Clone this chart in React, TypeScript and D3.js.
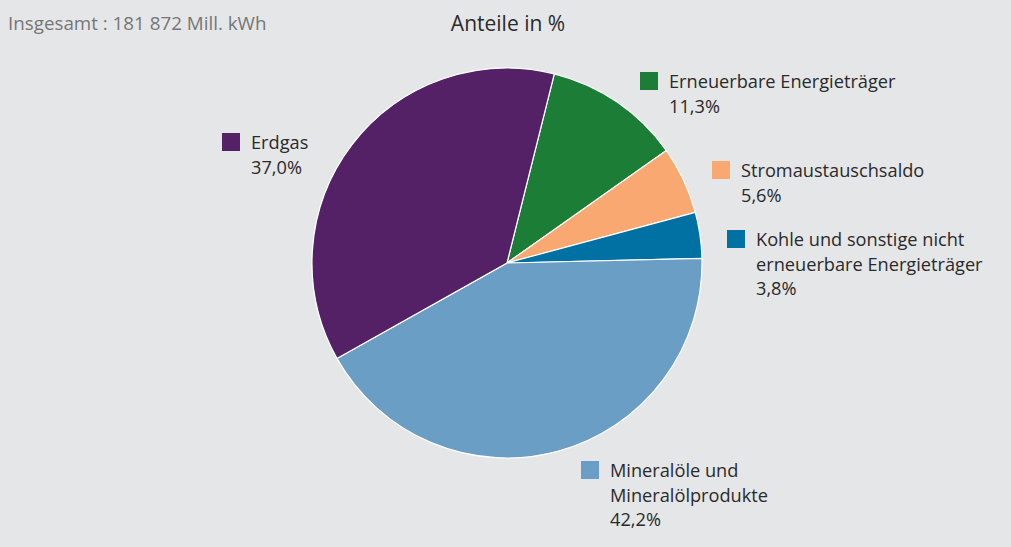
import React from "react";
import * as d3 from "d3";

const categories = [
  "Erneuerbare Energieträger",
  "Stromaustauschsaldo",
  "Kohle und sonstige nicht erneuerbare Energieträger",
  "Mineralöle und Mineralölprodukte",
  "Erdgas",
];
const values = [11.3, 5.6, 3.8, 42.2, 37.0];
const valueLabels = ["11,3%", "5,6%", "3,8%", "42,2%", "37,0%"];
const labelLines = [
  ["Erneuerbare Energieträger"],
  ["Stromaustauschsaldo"],
  ["Kohle und sonstige nicht", "erneuerbare Energieträger"],
  ["Mineralöle und", "Mineralölprodukte"],
  ["Erdgas"],
];
const colors = ["#1b7d36", "#f8a870", "#0071a2", "#6a9ec4", "#552166"];
const title = "Anteile in %";
const totalText = "Insgesamt : 181 872 Mill. kWh";

const W = 1011;
const H = 547;
const cx = 507;
const cy = 263;
const R = 195;
const FONT = "'Open Sans', 'Noto Sans', sans-serif";

// legend anchor positions (square top-left)
const legendPos = [
  { x: 640, y: 72 },
  { x: 712, y: 161 },
  { x: 727, y: 230 },
  { x: 581, y: 461 },
  { x: 222, y: 133 },
];

export default function App() {
  const pie = d3
    .pie<number>()
    .sort(null)
    .startAngle(0.245)
    .endAngle(0.245 + 2 * Math.PI)
    .value((d) => d);
  const arcs = pie(values);
  const arc = d3.arc<d3.PieArcDatum<number>>().innerRadius(0).outerRadius(R);

  return (
    <svg
      width={W}
      height={H}
      style={{ position: "absolute", left: 0, top: 0, display: "block" }}
      fontFamily={FONT}
    >
      <rect x={0} y={0} width={W} height={H} fill="#e5e6e8" />
      <text x={8} y={30} fontSize={18.8} fill="#767676">
        {totalText}
      </text>
      <text x={508} y={31} fontSize={21} fill="#2a2a2a" textAnchor="middle">
        {title}
      </text>
      <g transform={`translate(${cx},${cy})`}>
        {arcs.map((a, i) => (
          <path
            key={categories[i]}
            d={arc(a) || ""}
            fill={colors[i]}
            stroke="#ffffff"
            strokeWidth={1.2}
          />
        ))}
      </g>
      {categories.map((c, i) => {
        const p = legendPos[i];
        const lines = [...labelLines[i], valueLabels[i]];
        return (
          <g key={c}>
            <rect x={p.x} y={p.y} width={18} height={18} fill={colors[i]} />
            {lines.map((l, j) => (
              <text
                key={j}
                x={p.x + 29}
                y={p.y + 16 + j * 24.5}
                fontSize={18.2}
                fill="#2a2a2a"
              >
                {l}
              </text>
            ))}
          </g>
        );
      })}
    </svg>
  );
}
